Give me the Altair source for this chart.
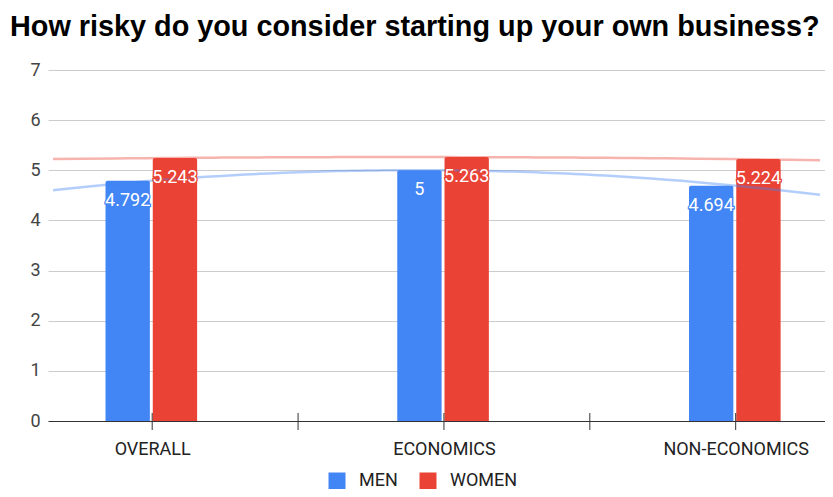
import json
import altair as alt
import pandas as pd

categories = ["OVERALL", "ECONOMICS", "NON-ECONOMICS"]
men = [4.792, 5, 4.694]
women = [5.243, 5.263, 5.224]
series = ["MEN", "WOMEN"]
colors = ["#4285F4", "#EA4335"]
y_ticks = [0, 1, 2, 3, 4, 5, 6, 7]
x_ticks = [0, 0.5, 1, 1.5, 2]
title_text = "How risky do you consider starting up your own business?"

rows = []
for i, c in enumerate(categories):
    for g, vals in zip(series, [men, women]):
        rows.append({"cat": c, "idx": i, "gender": g, "v": vals[i], "label": f"{vals[i]:g}"})
df = pd.DataFrame(rows)
ticks_df = pd.DataFrame({"t": x_ticks})

X_DOMAIN = [-0.34, 2.289]
W, H = 777, 351
FONT = "Roboto"

xscale = alt.Scale(domain=X_DOMAIN, nice=False, zero=False)
yscale = alt.Scale(domain=[0, 7], nice=False)
cscale = alt.Scale(domain=series, range=colors)

label_expr = json.dumps(categories) + "[datum.value]"
x_axis = alt.Axis(values=[0, 1, 2], labelExpr=label_expr, ticks=False, grid=False,
                  domain=True, domainColor="#333", domainWidth=1, labelPadding=33,
                  labelBaseline="alphabetic", labelFont=FONT, labelFontSize=18,
                  labelColor="#222", title=None, labelFlush=False)
y_axis = alt.Axis(values=y_ticks, grid=True, gridColor="#cccccc", domain=False, ticks=False,
                  labelPadding=8, labelFont=FONT, labelFontSize=18, labelColor="#444",
                  title=None)

base = alt.Chart(df).transform_calculate(
    x0="datum.idx + (datum.gender == 'MEN' ? -0.160 : 0.002)"
).transform_calculate(
    x1="datum.x0 + 0.152", xc="datum.x0 + 0.076"
)

bars = base.mark_bar(cornerRadiusTopLeft=2, cornerRadiusTopRight=2, orient="vertical").encode(
    x=alt.X("x0:Q", scale=xscale, axis=x_axis),
    x2="x1:Q",
    y=alt.Y("v:Q", scale=yscale, axis=y_axis),
    y2=alt.datum(0),
    color=alt.Color("gender:N", scale=cscale, legend=alt.Legend(
        orient="none", legendX=280, legendY=402, direction="horizontal", title=None,
        symbolType="square", symbolSize=289, symbolStrokeWidth=0, labelFontSize=18,
        labelFont=FONT, labelColor="#222", labelOffset=13, columnPadding=21, padding=0)),
)

tick_rules = alt.Chart(ticks_df).mark_rule(color="#333", strokeWidth=1).encode(
    x=alt.X("t:Q", scale=xscale),
    y=alt.value(H - 8),
    y2=alt.value(H + 9),
)

trend = alt.Chart(df).transform_regression(
    "idx", "v", method="poly", order=2, groupby=["gender"], extent=X_DOMAIN
).mark_line(strokeWidth=2.5, opacity=0.4, clip=True).encode(
    x=alt.X("idx:Q", scale=xscale),
    y=alt.Y("v:Q", scale=yscale),
    stroke=alt.Stroke("gender:N", scale=cscale, legend=None),
)

halo = base.mark_text(baseline="alphabetic", dy=25, font=FONT, fontSize=18, strokeWidth=2.5).encode(
    x=alt.X("xc:Q", scale=xscale),
    y=alt.Y("v:Q", scale=yscale),
    text="label:N",
    fill=alt.Fill("gender:N", scale=cscale, legend=None),
    stroke=alt.Stroke("gender:N", scale=cscale, legend=None),
)

labels = base.mark_text(baseline="alphabetic", dy=25, font=FONT, fontSize=18, color="white").encode(
    x=alt.X("xc:Q", scale=xscale),
    y=alt.Y("v:Q", scale=yscale),
    text="label:N",
)

chart = alt.layer(bars, tick_rules, trend, halo, labels).properties(
    width=W, height=H,
    title=alt.TitleParams(title_text, anchor="start", frame="group", font="Liberation Sans",
                          fontSize=28.8, fontWeight="bold", color="#000", baseline="alphabetic",
                          offset=2, dx=-38, dy=6),
    autosize=alt.AutoSizeParams(type="none"),
    padding={"left": 40, "top": 62, "right": 0, "bottom": 68},
    background="white",
).configure_view(stroke=None)

chart.save("out.html", embed_options={"renderer": "svg", "actions": False})
